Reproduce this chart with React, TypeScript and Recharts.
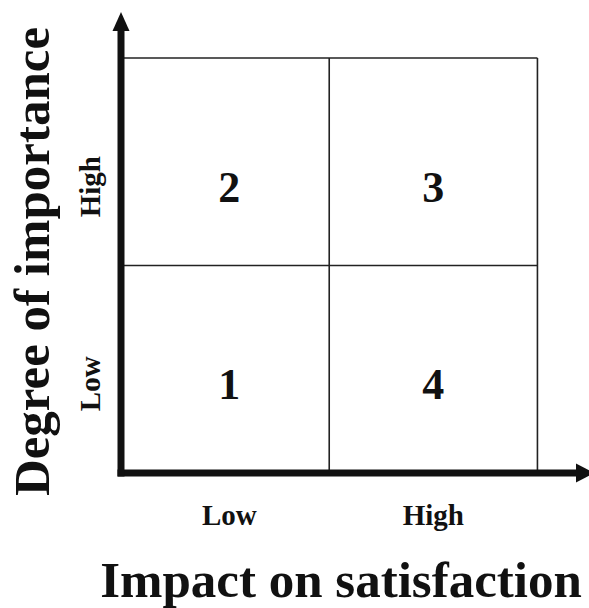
import { ScatterChart, Scatter, XAxis, YAxis, ReferenceLine, Label } from 'recharts';

// quadrant numbers, placed in data space (x: impact, y: importance)
const quadrantIds = ['1', '2', '3', '4'];
const quadrantX = [0.52, 0.52, 1.5, 1.5];
const quadrantY = [0.43, 1.38, 1.38, 0.43];

// tick positions + labels
const xTicks = [0.52, 1.5];
const xTickLabels = ['Low', 'High'];
const yTicks = [0.43, 1.38];
const yTickLabels = ['Low', 'High'];

// grid box is 2x2 units, axes run a bit further to the arrow heads
const boxMax = 2;
const xEnd = 2.19;
const yEnd = 2.135;

const xTitle = 'Impact on satisfaction';
const yTitle = 'Degree of importance';

const FONT = '"Liberation Serif", "Times New Roman", serif';
const INK = '#111';

const quadrants = quadrantIds.map((id, i) => ({ id, x: quadrantX[i], y: quadrantY[i] }));
const arrows = [
  { x: xEnd, y: 0, dir: 'right' },
  { x: 0, y: yEnd, dir: 'up' },
];

const XTick = ({ x, y, payload }: any) => (
  <text x={x} y={y + 52} textAnchor="middle" fontFamily={FONT} fontWeight={700} fontSize={29} fill={INK}>
    {xTickLabels[xTicks.indexOf(payload.value)]}
  </text>
);

const YTick = ({ x, y, payload }: any) => {
  const tx = x - 21;
  return (
    <text
      x={tx}
      y={y}
      transform={`rotate(-90, ${tx}, ${y})`}
      textAnchor="middle"
      fontFamily={FONT}
      fontWeight={700}
      fontSize={29}
      fill={INK}
    >
      {yTickLabels[yTicks.indexOf(payload.value)]}
    </text>
  );
};

const XTitle = (props: any) => {
  const vb = props.viewBox || { x: 121, y: 473, width: 456 };
  return (
    <text x={vb.x + vb.width / 2 - 8} y={vb.y + 124} textAnchor="middle" fontFamily={FONT} fontWeight={700} fontSize={51} fill={INK}>
      {xTitle}
    </text>
  );
};

const YTitle = (props: any) => {
  const vb = props.viewBox || { x: 61, y: 30, height: 443 };
  const cx = vb.x - 12;
  const cy = vb.y + vb.height / 2 + 10;
  return (
    <text
      x={cx}
      y={cy}
      transform={`rotate(-90, ${cx}, ${cy})`}
      textAnchor="middle"
      fontFamily={FONT}
      fontWeight={700}
      fontSize={51}
      fill={INK}
    >
      {yTitle}
    </text>
  );
};

const QuadrantNumber = ({ cx, cy, payload }: any) => (
  <text x={cx} y={cy} dy="0.34em" textAnchor="middle" fontFamily={FONT} fontWeight={700} fontSize={44} fill={INK}>
    {payload.id}
  </text>
);

const ArrowHead = ({ cx, cy, payload }: any) => {
  const pts =
    payload.dir === 'right'
      ? `${cx - 1},${cy - 9.5} ${cx + 17},${cy} ${cx - 1},${cy + 9.5}`
      : `${cx - 8.5},${cy + 1} ${cx},${cy - 18} ${cx + 8.5},${cy + 1}`;
  return <polygon points={pts} fill={INK} />;
};

const axisLine = { stroke: INK, strokeWidth: 7, strokeLinecap: 'square' as const };
const gridLine = { stroke: '#222', strokeWidth: 1.6 };

export default function App() {
  return (
    <div style={{ position: 'absolute', left: 0, top: 0, width: 589, height: 608, background: '#fff' }}>
      <ScatterChart width={589} height={608} margin={{ top: 30, right: 12, bottom: 65, left: 61 }}>
        <XAxis
          type="number"
          dataKey="x"
          domain={[0, xEnd]}
          ticks={xTicks}
          interval={0}
          tickSize={0}
          tickMargin={0}
          tickLine={false}
          axisLine={axisLine}
          tick={<XTick />}
          height={70}
        >
          <Label content={<XTitle />} />
        </XAxis>
        <YAxis
          type="number"
          dataKey="y"
          domain={[0, yEnd]}
          ticks={yTicks}
          interval={0}
          tickSize={0}
          tickMargin={0}
          tickLine={false}
          axisLine={axisLine}
          tick={<YTick />}
          width={60}
        >
          <Label content={<YTitle />} />
        </YAxis>

        <ReferenceLine segment={[{ x: 0, y: boxMax }, { x: boxMax, y: boxMax }]} {...gridLine} />
        <ReferenceLine segment={[{ x: boxMax, y: 0 }, { x: boxMax, y: boxMax }]} {...gridLine} />
        <ReferenceLine segment={[{ x: boxMax / 2, y: 0 }, { x: boxMax / 2, y: boxMax }]} {...gridLine} />
        <ReferenceLine segment={[{ x: 0, y: boxMax / 2 }, { x: boxMax, y: boxMax / 2 }]} {...gridLine} />

        <Scatter data={quadrants} shape={<QuadrantNumber />} isAnimationActive={false} />
        <Scatter data={arrows} shape={<ArrowHead />} isAnimationActive={false} />
      </ScatterChart>
    </div>
  );
}
